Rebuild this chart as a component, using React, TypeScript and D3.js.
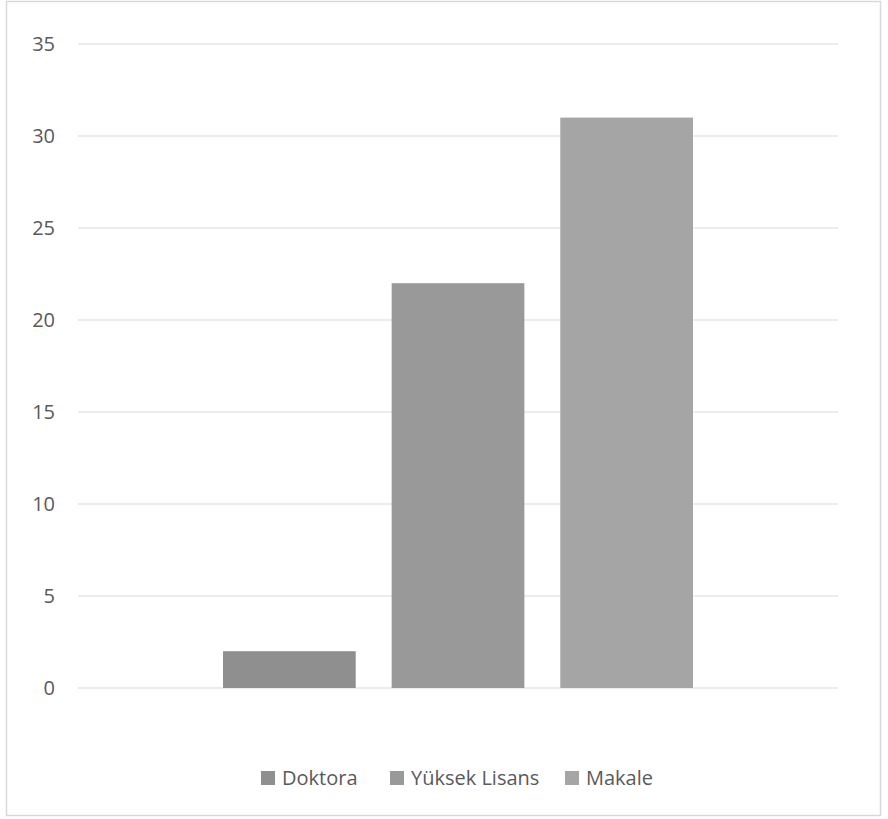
import React from "react";
import * as d3 from "d3";

const categories = ["Seri"];
const seriesNames = ["Doktora", "Yüksek Lisans", "Makale"];
const seriesValues = [2, 22, 31];
const seriesColors = ["#8f8f8f", "#999999", "#a5a5a5"];
const yTicks = [0, 5, 10, 15, 20, 25, 30, 35];

export default function App() {
  const W = 888, H = 819;
  const plotLeft = 78, plotRight = 838, plotTop = 44, plotBottom = 688;
  const y = d3.scaleLinear().domain([0, 35]).range([plotBottom, plotTop]);
  const x0 = d3.scaleBand().domain(categories).range([plotLeft, plotRight]).padding(0);
  const x1 = d3
    .scaleBand()
    .domain(seriesNames)
    .range([145, x0.bandwidth() - 145])
    .paddingInner(36 / 169)
    .paddingOuter(0);
  const font = "Open Sans, Liberation Sans, sans-serif";
  const legendX = [261, 390, 565];
  return (
    <svg width={W} height={H} style={{ position: "absolute", left: 0, top: 0 }}>
      <rect x={0} y={0} width={W} height={H} fill="#fff" />
      <rect x={6.5} y={1.5} width={874} height={814} fill="none" stroke="#d9d9d9" strokeWidth={1.5} />
      {yTicks.map((t) => (
        <g key={t}>
          <line x1={plotLeft} x2={plotRight} y1={y(t)} y2={y(t)} stroke="#d9d9d9" strokeWidth={1.2} />
          <text x={55} y={y(t)} dy="0.36em" textAnchor="end" fontFamily={font} fontSize={20} fill="#595959">
            {t}
          </text>
        </g>
      ))}
      {categories.map((c) =>
        seriesNames.map((s, i) => (
          <rect
            key={s}
            x={(x0(c) as number) + (x1(s) as number)}
            y={y(seriesValues[i])}
            width={x1.bandwidth()}
            height={y(0) - y(seriesValues[i])}
            fill={seriesColors[i]}
          />
        ))
      )}
      {seriesNames.map((s, i) => (
        <g key={s}>
          <rect x={legendX[i]} y={771} width={14} height={14} fill={seriesColors[i]} />
          <text x={legendX[i] + 21} y={778} dy="0.36em" fontFamily={font} fontSize={20} fill="#595959">
            {s}
          </text>
        </g>
      ))}
    </svg>
  );
}
